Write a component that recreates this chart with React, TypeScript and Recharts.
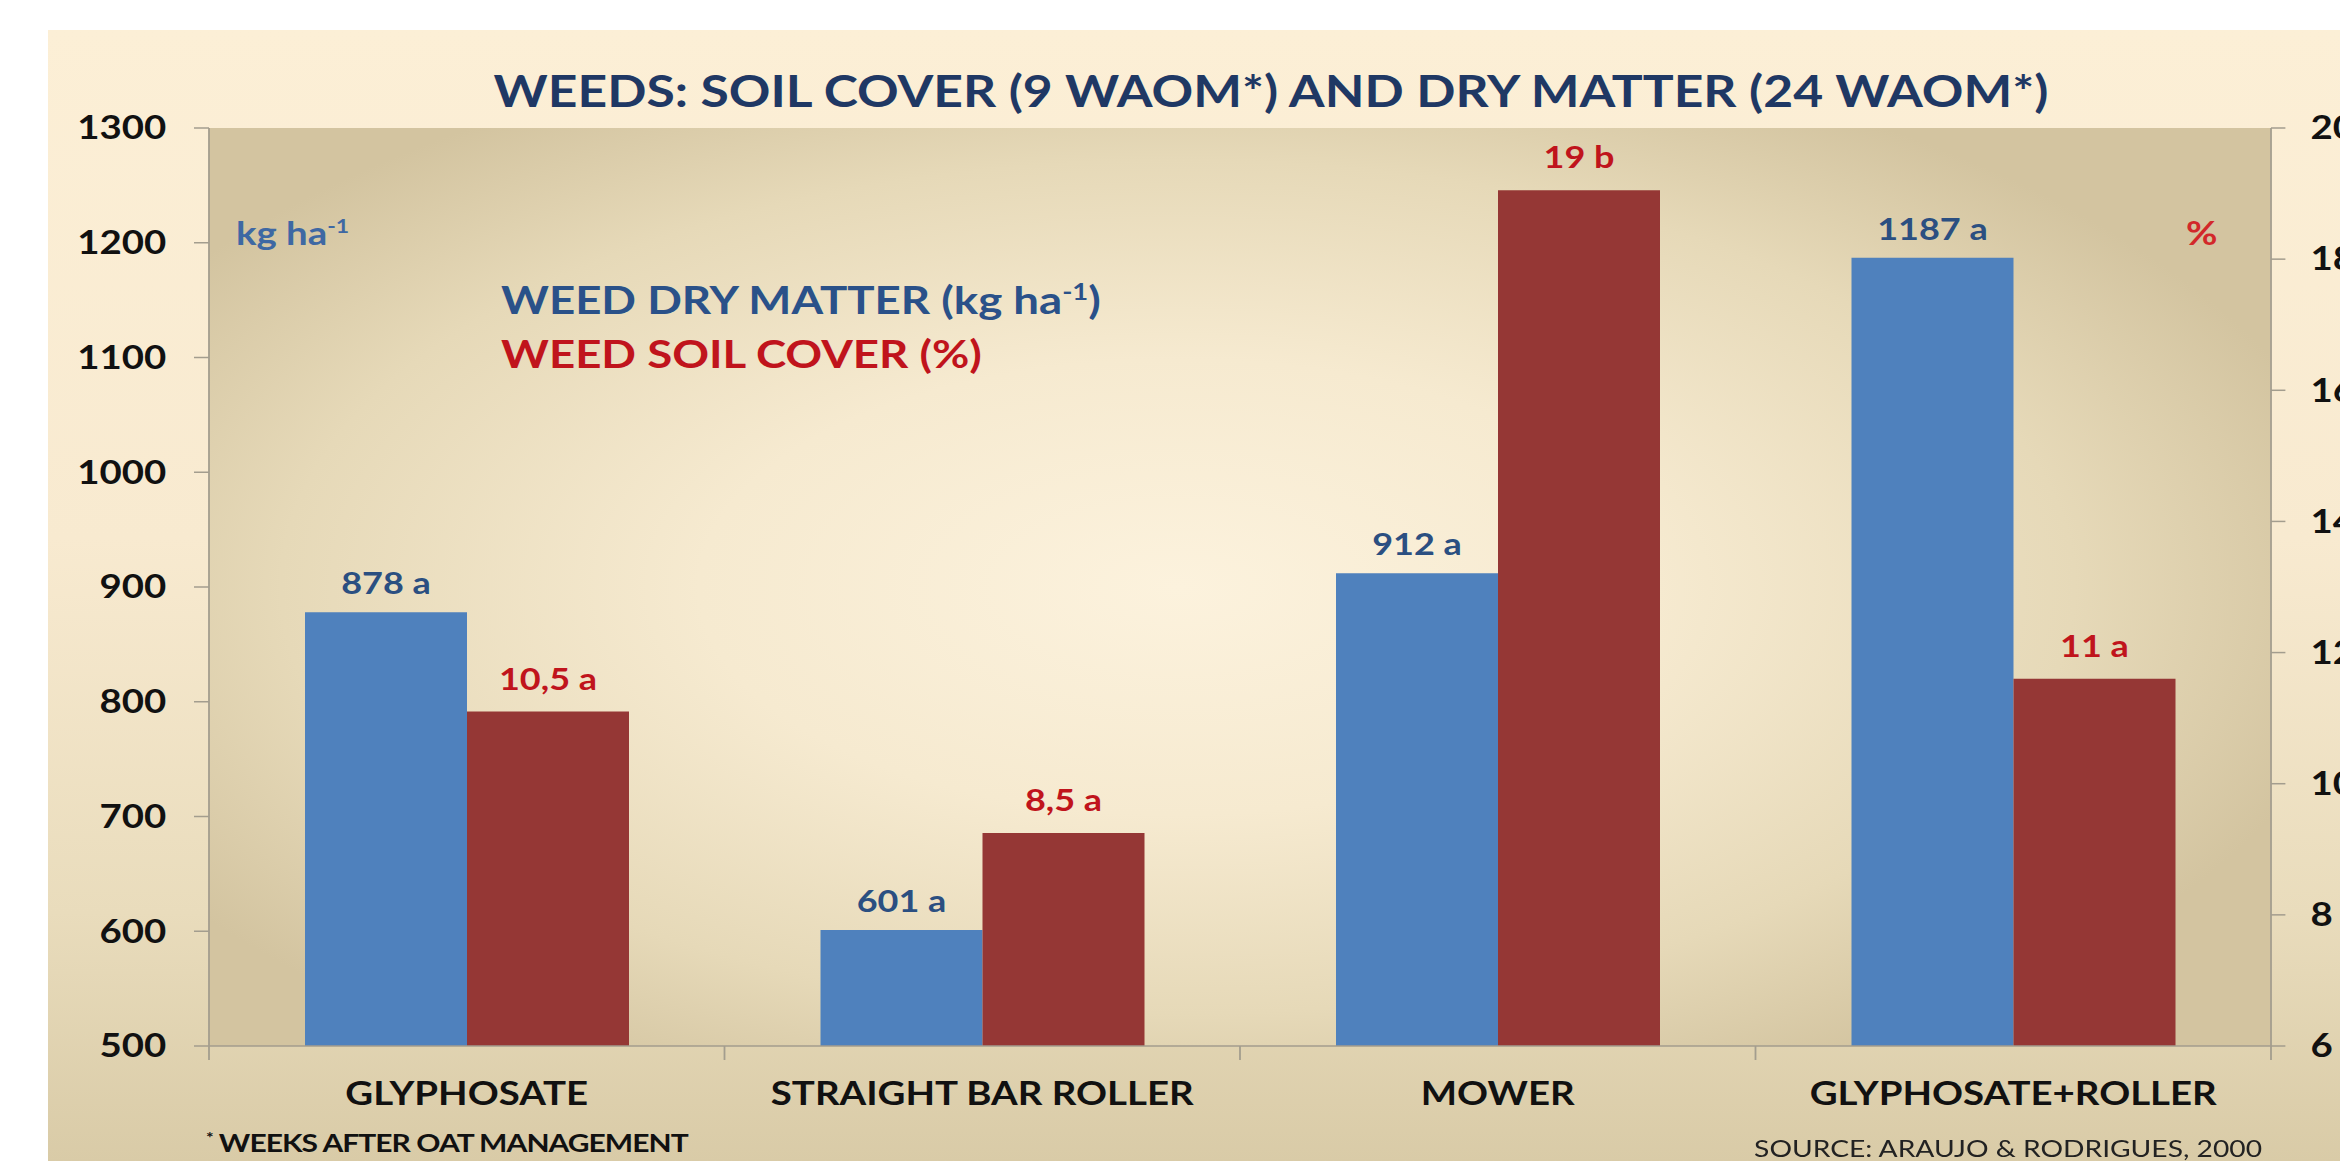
import React from 'react';
import { BarChart, Bar, XAxis, YAxis, LabelList } from 'recharts';

// values
const categories = ['GLYPHOSATE', 'STRAIGHT BAR ROLLER', 'MOWER', 'GLYPHOSATE+ROLLER'];
const dryMatter = [878, 601, 912, 1187];
const dryMatterLabels = ['878 a', '601 a', '912 a', '1187 a'];
const soilCover = [11.1, 9.25, 19.05, 11.6];
const soilCoverLabels = ['10,5 a', '8,5 a', '19 b', '11 a'];
const leftTicks = [500, 600, 700, 800, 900, 1000, 1100, 1200, 1300];
const rightTicks = [6, 8, 10, 12, 14, 16, 18, 20];

const data = categories.map((c, i) => ({
  category: c,
  dryMatter: dryMatter[i],
  dmLabel: dryMatterLabels[i],
  soilCover: soilCover[i],
  scLabel: soilCoverLabels[i],
}));

// the slide is horizontally stretched, so everything is drawn narrower and scaled in x
const S = 1.2;
const W = 2340 / S;
const H = 1161;
const PLOT_LEFT = 209 / S;
const PLOT_RIGHT = 2271 / S;
const PLOT_TOP = 128;
const PLOT_BOTTOM = 1046;
const LEFT_AXIS_W = 120;
const RIGHT_AXIS_W = 40;
const BAND = (PLOT_RIGHT - PLOT_LEFT) / categories.length;

const BLUE = '#4F81BD';
const RED = '#953735';
const AXIS = '#A39D8E';

const Txt = ({ x, y, size, color, weight = 700, anchor = 'start', style = {}, children }: any) => {
  const tx = anchor === 'middle' ? 'translateX(-50%)' : anchor === 'end' ? 'translateX(-100%)' : 'none';
  return (
    <div
      style={{
        position: 'absolute',
        left: x / S,
        top: y - 0.53 * size,
        fontSize: size,
        lineHeight: 1,
        color,
        fontWeight: weight,
        whiteSpace: 'nowrap',
        transform: tx,
        ...style,
      }}
    >
      {children}
    </div>
  );
};

const sup = { fontSize: '0.6em', verticalAlign: 'super', lineHeight: 0 } as const;

const CategoryTick = (props: any) => {
  const { x, y, payload, index } = props;
  const last = index === categories.length - 1;
  return (
    <g>
      <line x1={x - BAND / 2} y1={y} x2={x - BAND / 2} y2={y + 14} stroke={AXIS} strokeWidth={1.5} />
      {last && <line x1={x + BAND / 2} y1={y} x2={x + BAND / 2} y2={y + 14} stroke={AXIS} strokeWidth={1.5} />}
      <text x={x} y={y + 59} textAnchor="middle" fontSize={32} fontWeight={700} fill="#111">
        {payload.value}
      </text>
    </g>
  );
};

const barLabel = (color: string, offset: number) => (props: any) => {
  const { x, y, width, value } = props;
  return (
    <text x={x + width / 2} y={y - offset} textAnchor="middle" fontSize={30} fontWeight={700} fill={color}>
      {value}
    </text>
  );
};

export default function App() {
  return (
    <div
      style={{
        position: 'absolute',
        left: 0,
        top: 0,
        width: 2340,
        height: H,
        overflow: 'hidden',
        background: '#fff',
      }}
    >
      <div
        style={{
          position: 'absolute',
          left: 0,
          top: 0,
          width: W,
          height: H,
          transform: `scaleX(${S})`,
          transformOrigin: '0 0',
          fontFamily: 'Lato, "Open Sans", sans-serif',
        }}
      >
        {/* slide panel */}
        <div
          style={{
            position: 'absolute',
            left: 48 / S,
            top: 30,
            right: 0,
            bottom: 0,
            background: 'linear-gradient(180deg, #FCEFD6 0%, #F8EAD0 45%, #E9DCBC 78%, #D9CBA7 100%)',
          }}
        />
        {/* plot area */}
        <div
          style={{
            position: 'absolute',
            left: PLOT_LEFT,
            top: PLOT_TOP,
            width: PLOT_RIGHT - PLOT_LEFT,
            height: PLOT_BOTTOM - PLOT_TOP,
            background:
              'radial-gradient(ellipse 58% 62% at 47% 50%, #FCF2DD 0%, #F6EAD0 40%, #E6D9B8 75%, #D3C4A0 100%)',
          }}
        />

        <div style={{ position: 'absolute', left: 0, top: 0 }}>
          <BarChart
            width={W}
            height={H}
            data={data}
            margin={{
              top: PLOT_TOP,
              bottom: 0,
              left: PLOT_LEFT - LEFT_AXIS_W,
              right: W - PLOT_RIGHT - RIGHT_AXIS_W,
            }}
            barGap={0}
            barSize={162 / S}
          >
            <XAxis
              dataKey="category"
              height={H - PLOT_BOTTOM}
              tickLine={false}
              tickSize={0}
              tickMargin={0}
              axisLine={{ stroke: AXIS, strokeWidth: 1.5 }}
              tick={<CategoryTick />}
              interval={0}
            />
            <YAxis
              yAxisId="left"
              orientation="left"
              width={LEFT_AXIS_W}
              domain={[500, 1300]}
              ticks={leftTicks}
              interval={0}
              allowDataOverflow
              tickSize={12.5}
              tickMargin={23}
              tickLine={{ stroke: AXIS, strokeWidth: 1.5 }}
              axisLine={{ stroke: AXIS, strokeWidth: 1.5 }}
              tick={{ fontSize: 32, fontWeight: 700, fill: '#111' }}
            />
            <YAxis
              yAxisId="right"
              orientation="right"
              width={RIGHT_AXIS_W}
              domain={[6, 20]}
              ticks={rightTicks}
              interval={0}
              allowDataOverflow
              tickSize={12}
              tickMargin={21}
              tickLine={{ stroke: AXIS, strokeWidth: 1.5 }}
              axisLine={{ stroke: AXIS, strokeWidth: 1.5 }}
              tick={{ fontSize: 32, fontWeight: 700, fill: '#111', textAnchor: 'start' }}
            />
            <Bar yAxisId="left" dataKey="dryMatter" fill={BLUE} isAnimationActive={false}>
              <LabelList dataKey="dmLabel" content={barLabel('#2B4F81', 18)} />
            </Bar>
            <Bar yAxisId="right" dataKey="soilCover" fill={RED} isAnimationActive={false}>
              <LabelList dataKey="scLabel" content={barLabel('#C0141C', 22)} />
            </Bar>
          </BarChart>
        </div>

        <Txt x={1271} y={92} size={43} color="#1F3864" anchor="middle">
          WEEDS: SOIL COVER (9 WAOM*) AND DRY MATTER (24 WAOM*)
        </Txt>
        <Txt x={236} y={234} size={32} color="#3E68A3">
          kg ha<span style={sup}>-1</span>
        </Txt>
        <Txt x={2186} y={234} size={32} color="#D2282A">
          %
        </Txt>
        <Txt x={501} y={300} size={38} color="#2A5189">
          WEED DRY MATTER (kg ha<span style={sup}>-1</span>)
        </Txt>
        <Txt x={501} y={354} size={38} color="#C0141C">
          WEED SOIL COVER (%)
        </Txt>
        <Txt x={206} y={1143} size={25} color="#111" style={{ letterSpacing: -0.8 }}>
          <span style={sup}>*</span> WEEKS AFTER OAT MANAGEMENT
        </Txt>
        <Txt x={2262} y={1149} size={23.5} color="#222" weight={400} anchor="end">
          SOURCE: ARAUJO &amp; RODRIGUES, 2000
        </Txt>
      </div>
    </div>
  );
}
